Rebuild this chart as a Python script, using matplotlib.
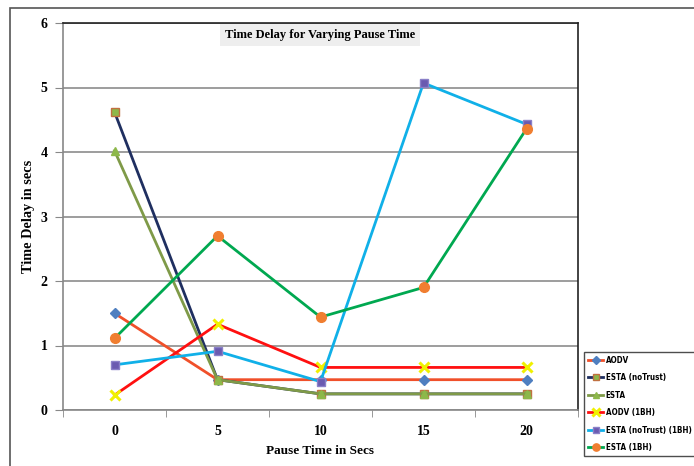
import numpy as np
import matplotlib
matplotlib.use("Agg")
from matplotlib import pyplot as plt
from matplotlib.patches import Rectangle

pause_times = ["0", "5", "10", "15", "20"]
series_names = ["AODV", "ESTA (noTrust)", "ESTA", "AODV (1BH)",
                "ESTA (noTrust) (1BH)", "ESTA (1BH)"]
aodv = [1.50, 0.47, 0.47, 0.47, 0.47]
esta_notrust = [4.62, 0.47, 0.25, 0.25, 0.25]
esta = [4.02, 0.47, 0.25, 0.25, 0.25]
aodv_1bh = [0.23, 1.33, 0.66, 0.66, 0.66]
esta_notrust_1bh = [0.70, 0.91, 0.44, 5.07, 4.43]
esta_1bh = [1.11, 2.70, 1.44, 1.90, 4.36]

serif = ["Liberation Serif", "DejaVu Serif"]

fig = plt.figure(figsize=(6.94, 4.66), dpi=100)
fig.patches.append(Rectangle((10 / 694, -0.1), 1.2, (466 - 8) / 466 + 0.1,
                             transform=fig.transFigure, fill=False,
                             edgecolor="#555555", linewidth=1.2))
ax = fig.add_axes([63 / 694, 56 / 466, 515 / 694, 387 / 466])

ind = np.arange(len(pause_times))
styles = [
    dict(color="#F0502A", marker="D", ms=5, mfc="#4F7FC0", mec="#4F7FC0"),
    dict(color="#1F2F60", marker="s", ms=6, mfc="#8DB84A", mec="#C07040"),
    dict(color="#7F9A48", marker="^", ms=6, mfc="#8DB84A", mec="#8DB84A"),
    dict(color="#FF1010", marker="x", ms=7, mfc="#FFFF00", mec="#F0F000", mew=2.2),
    dict(color="#10B0E8", marker="s", ms=6, mfc="#6A5AB0", mec="#8A80C8"),
    dict(color="#00A850", marker="o", ms=7, mfc="#F07E30", mec="#F07E30"),
]
data = [aodv, esta_notrust, esta, aodv_1bh, esta_notrust_1bh, esta_1bh]
lines = []
for name, vals, st in zip(series_names, data, styles):
    l, = ax.plot(ind, vals, lw=2, label=name, **st)
    lines.append(l)

ax.set_xlim(-0.5, 4.5)
ax.set_ylim(0, 6)
ax.set_yticks(range(7))
ax.yaxis.grid(True, color="#8C8C8C", lw=1.2)
ax.set_axisbelow(True)
ax.set_xticks(ind)
ax.set_xticklabels(pause_times, fontfamily=serif, fontweight="bold", fontsize=10)
ax.set_xticks(np.arange(-0.5, 5, 1), minor=True)
ax.tick_params(axis="x", which="major", length=0, pad=11)
ax.tick_params(axis="x", which="minor", length=5, color="#888888")
ax.tick_params(axis="y", length=6, color="#888888", pad=5)
for lab in ax.get_yticklabels():
    lab.set_fontfamily(serif)
    lab.set_fontweight("bold")
    lab.set_fontsize(10)
for s in ["top", "right"]:
    ax.spines[s].set_color("#222222")
    ax.spines[s].set_linewidth(1.2)
for s in ["left", "bottom"]:
    ax.spines[s].set_color("#888888")
    ax.spines[s].set_linewidth(1.2)

ax.set_xlabel("Pause Time in Secs", fontfamily=serif, fontweight="bold",
              fontsize=9.5, labelpad=5)
ax.set_ylabel("Time Delay in secs", fontfamily=serif, fontweight="bold",
              fontsize=10.3, labelpad=4)
ax.text(0.499, 0.969, "Time Delay for Varying Pause Time", transform=ax.transAxes,
        ha="center", va="center", fontfamily=serif, fontweight="bold", fontsize=9,
        bbox=dict(boxstyle="square,pad=0.4", fc="#EEEEEE", ec="none"))

leg = fig.legend(handles=lines, loc="lower left",
                 bbox_to_anchor=(584 / 694, 10 / 466),
                 prop=dict(family="DejaVu Sans", stretch="condensed",
                           weight="bold", size=5.8),
                 frameon=True, fancybox=False, edgecolor="#222222",
                 handlelength=1.9, handletextpad=0.3, labelspacing=1.05,
                 borderpad=0.5, borderaxespad=0, markerscale=0.75)
leg.get_frame().set_linewidth(1.0)

plt.savefig("out.png", dpi=100)
